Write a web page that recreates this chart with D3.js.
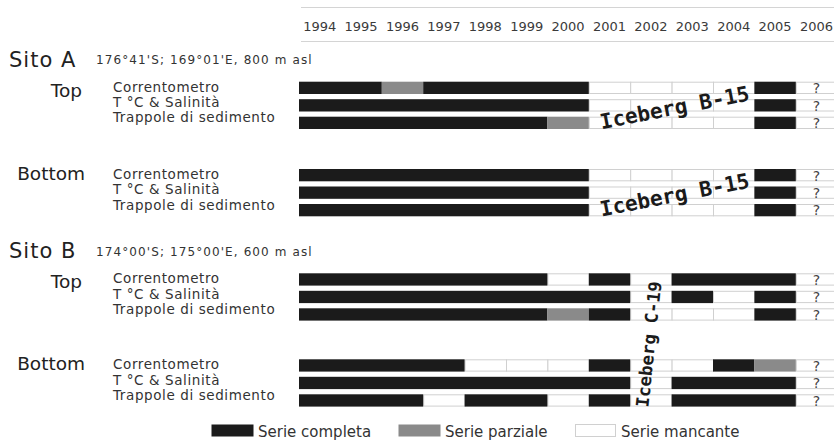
<!DOCTYPE html>
<html>
<head>
<meta charset="utf-8">
<script src="https://cdn.jsdelivr.net/npm/d3@7"></script>
<style>
  body { margin: 0; background: #fff; }
  svg { display: block; font-family: "DejaVu Sans", sans-serif; }
</style>
</head>
<body>
<div id="chart"></div>
<script>
// years on the top axis
var years = [1994, 1995, 1996, 1997, 1998, 1999, 2000, 2001, 2002, 2003, 2004, 2005, 2006];
var instruments = ["Correntometro", "T °C & Salinità", "Trappole di sedimento"];
var sites = ["Sito A", "Sito B"];
var siteCoords = ["176°41'S; 169°01'E, 800 m asl", "174°00'S; 175°00'E, 600 m asl"];
var depths = ["Top", "Bottom"];

// one letter per year 1994..2005 : C = completa, P = parziale, M = mancante (2006 is "?")
var sitoATop    = ["CCPCCCCMMMMC", "CCCCCCCMMMMC", "CCCCCCPMMMMC"];
var sitoABottom = ["CCCCCCCMMMMC", "CCCCCCCMMMMC", "CCCCCCCMMMMC"];
var sitoBTop    = ["CCCCCCMCMCCC", "CCCCCCCCMCMC", "CCCCCCPCMMMC"];
var sitoBBottom = ["CCCCMMMCMMCP", "CCCCCCCCMCCC", "CCCMCCMCMCCC"];
var unknownMark = "?";

var legendKeys   = ["C", "P", "M"];
var legendLabels = ["Serie completa", "Serie parziale", "Serie mancante"];
var icebergLabels = ["Iceberg B-15", "Iceberg B-15", "Iceberg C-19"];

// layout
var width = 834, height = 441;
var blocks = [
  {site: 0, depth: 0, codes: sitoATop,    top: 81.7},
  {site: 0, depth: 1, codes: sitoABottom, top: 169},
  {site: 1, depth: 0, codes: sitoBTop,    top: 273.3},
  {site: 1, depth: 1, codes: sitoBBottom, top: 359.3}
];
var fills = {C: "#1b1b1b", P: "#8a8a8a", M: "#fff"};
var gridColor = "#d0d0d0";

// merge consecutive filled years into one bar, keep missing years as single cells
function runs(codes) {
  var out = [];
  codes.split("").forEach(function(c, i) {
    var last = out[out.length - 1];
    if (last && last.code === c && c !== "M") last.end = years[i] + 1;
    else out.push({start: years[i], end: years[i] + 1, code: c});
  });
  return out;
}

var svg = d3.select("#chart").append("svg")
  .attr("width", width)
  .attr("height", height);

var x = d3.scaleLinear()
  .domain([years[0], years[years.length - 1] + 1])
  .range([299, 299 + 41.4 * years.length]);

var row = d3.scaleBand()
  .domain(instruments)
  .range([0, 47.3])
  .paddingInner(0.297);

// header lines + year labels
svg.selectAll(".hline").data([7, 41]).enter().append("line")
  .attr("x1", 301).attr("x2", width)
  .attr("y1", d => d + 0.5).attr("y2", d => d + 0.5)
  .attr("stroke", "#d4d4d4");

svg.selectAll(".year").data(years).enter().append("text")
  .attr("x", d => x(d + 0.5))
  .attr("y", 30.7)
  .attr("text-anchor", "middle")
  .attr("font-size", 13)
  .attr("fill", "#3a3a3a")
  .text(d => d);

// site titles
var siteTops = [blocks[0].top, blocks[2].top];
sites.forEach(function(s, i) {
  svg.append("text")
    .attr("x", 9).attr("y", siteTops[i] - 15)
    .attr("font-size", 21).attr("letter-spacing", 1).attr("fill", "#222")
    .text(s);
  svg.append("text")
    .attr("x", 96).attr("y", siteTops[i] - 17.5)
    .attr("font-size", 12).attr("letter-spacing", 1.1).attr("fill", "#333")
    .text(siteCoords[i]);
});

blocks.forEach(function(b) {
  var g = svg.append("g").attr("transform", "translate(0," + b.top + ")");

  // depth label
  g.append("text")
    .attr("x", b.depth === 0 ? 82 : 85)
    .attr("y", b.depth === 0 ? 15 : 11)
    .attr("text-anchor", "end")
    .attr("font-size", 18.5).attr("fill", "#222")
    .text(depths[b.depth]);

  // instrument labels
  g.selectAll(".lab").data(instruments).enter().append("text")
    .attr("x", 113)
    .attr("y", (d, i) => 10 + i * 15.3)
    .attr("font-size", 13.5).attr("letter-spacing", 0.6).attr("fill", "#333")
    .text(d => d);

  instruments.forEach(function(inst, r) {
    var segs = runs(b.codes[r]);
    var rg = g.append("g").attr("transform", "translate(0," + row(inst) + ")");
    var last = years[years.length - 1];

    // "?" column frame
    rg.append("rect")
      .attr("x", x(last) + 0.5)
      .attr("y", 0.5)
      .attr("width", x(last + 1) - x(last))
      .attr("height", row.bandwidth() - 1)
      .attr("fill", "#fff").attr("stroke", gridColor);
    rg.append("text")
      .attr("x", x(last + 0.5))
      .attr("y", 11.5)
      .attr("text-anchor", "middle")
      .attr("font-size", 14).attr("fill", "#444")
      .text(unknownMark);

    // missing cells first, so the filled bars sit on top of their borders
    rg.selectAll(".m").data(segs.filter(s => s.code === "M")).enter().append("rect")
      .attr("x", d => x(d.start) + 0.5)
      .attr("y", 0.5)
      .attr("width", d => x(d.end) - x(d.start))
      .attr("height", row.bandwidth() - 1)
      .attr("fill", fills.M).attr("stroke", gridColor);

    rg.selectAll(".f").data(segs.filter(s => s.code !== "M")).enter().append("rect")
      .attr("x", d => x(d.start))
      .attr("y", 0)
      .attr("width", d => x(d.end) - x(d.start))
      .attr("height", row.bandwidth())
      .attr("fill", d => fills[d.code]);
  });
});

// iceberg notes
var ice = svg.append("g")
  .attr("font-family", "'DejaVu Sans Mono', monospace")
  .attr("font-weight", "bold")
  .attr("fill", "#1b1b1b")
  .attr("text-anchor", "middle");
ice.append("text")
  .attr("transform", "translate(676," + (blocks[0].top + 33) + ") rotate(-11)")
  .attr("font-size", 21).text(icebergLabels[0]);
ice.append("text")
  .attr("transform", "translate(676," + (blocks[1].top + 33) + ") rotate(-11)")
  .attr("font-size", 21).text(icebergLabels[1]);
ice.append("text")
  .attr("transform", "translate(" + (x(2002.5) + 4) + ",345) rotate(-84)")
  .attr("font-size", 17.5).text(icebergLabels[2]);

// legend
var legX = [211, 398, 575];
var leg = svg.selectAll(".leg").data(legendKeys).enter().append("g")
  .attr("transform", (d, i) => "translate(" + legX[i] + ",424)");
leg.append("rect")
  .attr("x", 0.5).attr("y", 0.5)
  .attr("width", (d, i) => i === 2 ? 40 : 42)
  .attr("height", 12)
  .attr("fill", d => fills[d])
  .attr("stroke", d => d === "M" ? gridColor : "none");
leg.append("text")
  .attr("x", (d, i) => i === 2 ? 46 : 47)
  .attr("y", 12.5)
  .attr("font-size", 15).attr("fill", "#333")
  .text((d, i) => legendLabels[i]);
</script>
</body>
</html>
